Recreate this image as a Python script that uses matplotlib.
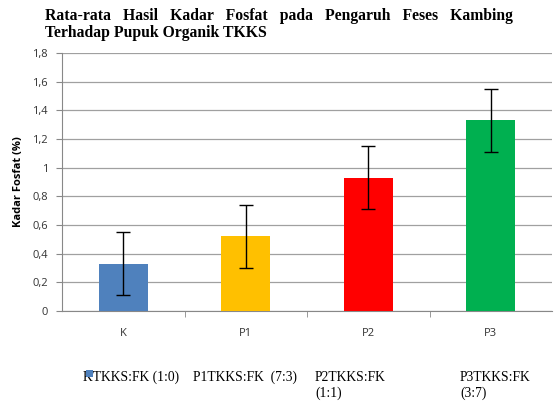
import matplotlib.pyplot as plt
from matplotlib.patches import Rectangle

# data
kategori = ["K", "P1", "P2", "P3"]
fosfat = [0.33, 0.52, 0.93, 1.33]
galat = [0.22, 0.22, 0.22, 0.22]
warna = ["#4f81bd", "#ffc000", "#ff0000", "#00b050"]
yticks = [0, 0.2, 0.4, 0.6, 0.8, 1.0, 1.2, 1.4, 1.6, 1.8]
ytick_labels = ["0", "0,2", "0,4", "0,6", "0,8", "1", "1,2", "1,4", "1,6", "1,8"]
keterangan = ["KTKKS:FK (1:0)", "P1TKKS:FK  (7:3)", "P2TKKS:FK\n(1:1)", "P3TKKS:FK\n(3:7)"]

fig = plt.figure(figsize=(5.55, 4.07), dpi=100)
ax = fig.add_axes([62 / 555, 1 - 311 / 407, 490 / 555, 258 / 407])

x = range(len(kategori))
ax.bar(x, fosfat, width=0.4, color=warna, zorder=3)
ax.errorbar(x, fosfat, yerr=galat, fmt="none", ecolor="black", elinewidth=1,
            capsize=5, capthick=1, zorder=4)

ax.set_xlim(-0.5, 3.5)
ax.set_ylim(0, 1.8)
ax.set_yticks(yticks)
ax.set_yticklabels(ytick_labels, family="Open Sans", fontsize=8, color="#333333")
ax.set_xticks(list(x))
ax.set_xticklabels(kategori, family="Open Sans", fontsize=8, color="#333333")
ax.set_xticks([0.5, 1.5, 2.5], minor=True)
ax.tick_params(axis="x", which="major", length=0, pad=12)
ax.tick_params(axis="x", which="minor", length=4, color="#888888")
ax.tick_params(axis="y", length=4, color="#888888", pad=6)

ax.grid(axis="y", color="#a0a0a0", linewidth=0.9, zorder=0)
for s in ["top", "right"]:
    ax.spines[s].set_visible(False)
ax.spines["left"].set_color("#888888")
ax.spines["bottom"].set_color("#888888")

ax.set_ylabel("Kadar Fosfat (%)", family="Open Sans", fontweight="bold", fontsize=8, labelpad=6)

fig.text(45 / 555, 1 - 16 / 407,
         "Rata-rata   Hasil   Kadar   Fosfat   pada   Pengaruh   Feses   Kambing",
         family="Liberation Serif", fontweight="bold", fontsize=11.3, va="center")
fig.text(45 / 555, 1 - 33 / 407, "Terhadap Pupuk Organik TKKS",
         family="Liberation Serif", fontweight="bold", fontsize=11.3, va="center")

# keterangan bawah
posisi_x = [83, 193, 315, 460]
for px, teks in zip(posisi_x, keterangan):
    fig.text(px / 555, 1 - 371 / 407, teks, family="Liberation Serif", fontsize=9.8,
             va="top", linespacing=1.25)
fig.patches.append(Rectangle((86 / 555, 1 - 377 / 407), 7 / 555, 7 / 407,
                             transform=fig.transFigure, facecolor="#4f81bd",
                             linewidth=0, zorder=5))

plt.savefig("out.png", dpi=100)
